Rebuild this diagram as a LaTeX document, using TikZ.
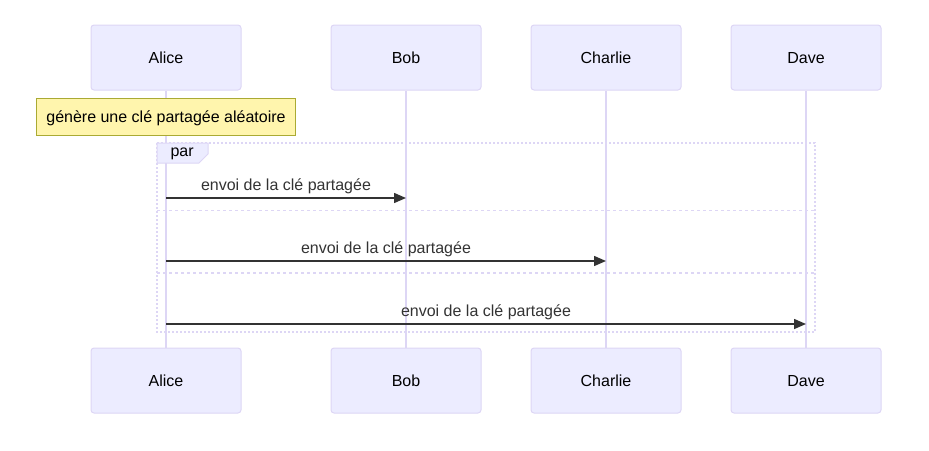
\documentclass[tikz,border=0pt]{standalone}
\usepackage{fontspec}
\setmainfont{Liberation Sans}
\usetikzlibrary{arrows.meta,positioning}
\definecolor{actfill}{HTML}{ECECFF}
\definecolor{actline}{HTML}{DDD6F5}
\definecolor{notefill}{HTML}{FFF5AD}
\definecolor{noteline}{HTML}{AAAA33}
\definecolor{msgline}{HTML}{333333}

\begin{document}
\begin{tikzpicture}[x=1pt, y=-1pt,
    actor/.style={rectangle, rounded corners=3pt, draw=actline, fill=actfill, line width=1pt,
      minimum width=150pt, minimum height=65pt, text height=13.5pt, text depth=1.5pt,
      font=\fontsize{16}{19}\selectfont},
    life/.style={draw=actline, line width=1.5pt},
    note/.style={rectangle, draw=noteline, fill=notefill, line width=1pt,
      minimum width=259pt, minimum height=37pt, text height=13.5pt, text depth=1.5pt,
      font=\fontsize{16}{19}\selectfont},
    loopline/.style={draw=actline, line width=1.5pt},
    msg/.style={draw=msgline, line width=1.5pt, -{Triangle[length=12pt,width=10pt]}},
    msglabel/.style={above=0pt, text=msgline, font=\fontsize{16}{19}\selectfont}]
  \useasboundingbox (0,0) rectangle (929,450);

  % actors, top and bottom
  \node[actor] (alice) at (166,57.5) {Alice};
  \node[actor] (bob) at (406,57.5) {Bob};
  \node[actor] (charlie) at (606,57.5) {Charlie};
  \node[actor] (dave) at (806,57.5) {Dave};
  \node[actor] (alice2) at (166,380.5) {Alice};
  \node[actor] (bob2) at (406,380.5) {Bob};
  \node[actor] (charlie2) at (606,380.5) {Charlie};
  \node[actor] (dave2) at (806,380.5) {Dave};

  % lifelines
  \path[life]
    (alice) -- (alice2)
    (bob) -- (bob2)
    (charlie) -- (charlie2)
    (dave) -- (dave2);

  \node[note] (gen) at (166,116.5) {génère une clé partagée aléatoire};

  % par block
  \draw[loopline, dash pattern=on 2pt off 2pt] (157,143) rectangle (815,332);
  \draw[loopline, dash pattern=on 3pt off 3pt] (157,210.5) -- (815,210.5);
  \draw[loopline, dash pattern=on 3pt off 3pt] (157,273) -- (815,273);
  \draw[actline, fill=actfill, line width=1pt] (157,143) -- (208,143) -- (208,154) -- (199,163) -- (157,163) -- cycle;
  \node[font=\fontsize{16}{19}\selectfont, anchor=west] (par) at (167,154) {par};

  % messages
  \coordinate (m1a) at (166,198);
  \coordinate (m1b) at (406,198);
  \coordinate (m2a) at (166,261);
  \coordinate (m2b) at (606,261);
  \coordinate (m3a) at (166,324);
  \coordinate (m3b) at (806,324);
  \draw[msg] (m1a) -- node[msglabel] {envoi de la clé partagée} (m1b);
  \draw[msg] (m2a) -- node[msglabel] {envoi de la clé partagée} (m2b);
  \draw[msg] (m3a) -- node[msglabel] {envoi de la clé partagée} (m3b);
\end{tikzpicture}
\end{document}
